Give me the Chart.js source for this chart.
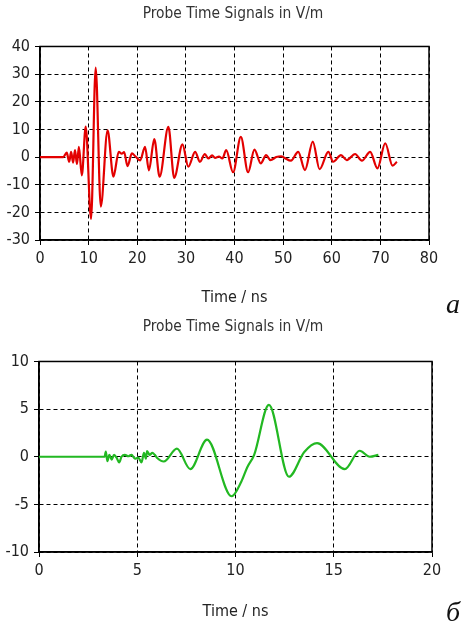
<!DOCTYPE html>
<html><head><meta charset="utf-8">
<script src="https://cdn.jsdelivr.net/npm/chart.js@4"></script>
<style>
html,body{margin:0;padding:0;background:#fff;}
#w{position:relative;width:461px;height:624px;overflow:hidden;background:#fff;}
canvas{position:absolute;left:0;}
#c1{top:0;} #c2{top:312px;}
.lab{position:absolute;font-family:'Liberation Serif','Times New Roman',serif;font-style:italic;font-size:28px;line-height:1;color:#111;}
</style></head><body>
<div id="w">
<canvas id="c1" width="461" height="312"></canvas>
<canvas id="c2" width="461" height="312"></canvas>
<div class="lab" style="left:446px;top:290px;">а</div>
<div class="lab" style="left:446px;top:598px;">б</div>
</div>
<script>
// ---- data ----
const chartTitle = 'Probe Time Signals in V/m';
const xAxisTitle = 'Time / ns';

// Top panel (a): time in ns, field in V/m
const t1 = [0,4.8,5.5,6.0,6.4,6.8,7.2,7.6,8.0,8.6,9.4,10.5,11.45,12.5,13.9,15.1,16.2,16.8,17.3,18.0,18.9,19.6,20.6,21.6,22.4,23.5,24.6,26.4,27.6,29.3,30.5,31.9,32.9,33.9,34.6,35.4,36.0,36.8,37.5,38.3,39.7,41.3,42.8,44.1,45.4,46.5,47.4,48.6,49.6,50.3,51.6,53.1,54.5,56.1,57.5,59.3,60.3,61.9,63.1,64.8,66.2,67.9,69.4,71.0,72.5,73.4];
const v1 = [0,0,1.6,-1.7,1.9,-2.0,2.5,-2.5,3.7,-6.6,11,-22.4,32.4,-17.9,9.7,-7.1,1.9,1.2,1.8,-3.3,1.3,0.3,-1.2,3.7,-4.8,6.5,-7.1,10.9,-7.5,4.6,-3.5,1.9,-1.7,1.1,-0.5,0.6,-0.3,0.2,-0.5,2.5,-5.5,7.3,-5.5,2.7,-2.3,0.7,-1.1,0,0.3,-0.3,-1.3,1.9,-4.7,5.6,-4.4,1.9,-1.7,0.7,-1.1,1.1,-1.3,1.9,-4.1,5.0,-3.1,-1.7];
const xTicks1 = {min:0, max:80, step:10};
const yTicks1 = {min:-30, max:40, step:10};

// Bottom panel (б)
const t2 = [0,3.34,3.4,3.48,3.58,3.7,3.82,3.95,4.08,4.2,4.37,4.54,4.71,4.88,5.05,5.22,5.34,5.44,5.5,5.63,5.77,5.89,6.0,6.35,7.02,7.7,8.55,9.8,10.3,10.6,10.95,11.7,12.72,13.5,14.15,15.56,16.32,16.83,17.27];
const v2 = [0,0,0.55,-0.45,0.2,-0.3,0.2,-0.1,-0.6,0.0,0.2,0.05,0.2,-0.2,-0.1,-0.6,0.4,-0.2,0.6,0.2,0.4,0.2,-0.1,-0.5,0.85,-1.3,1.8,-4.15,-2.6,-1.1,0.2,5.45,-2.1,0.5,1.43,-1.3,0.63,0,0.2];
const xTicks2 = {min:0, max:20, step:5};
const yTicks2 = {min:-10, max:10, step:5};

const F = "'DejaVu Sans Condensed','Liberation Sans',Arial,sans-serif";

const frame = {id:'frame', beforeDatasetsDraw(chart){
  const a = chart.chartArea, c = chart.ctx;
  c.save(); c.strokeStyle='#000'; c.lineWidth=1.5; c.setLineDash([]);
  c.strokeRect(a.left, a.top, a.right-a.left, a.bottom-a.top); c.restore();
}};

function make(id, ts, vs, color, xt, yt, o){
  const pts = ts.map((t,i)=>({x:t, y:vs[i]}));
  return new Chart(document.getElementById(id), {
    type:'line',
    data:{datasets:[{data:pts, borderColor:color, borderWidth:2.2, pointRadius:0, cubicInterpolationMode:'monotone', fill:false}]},
    options:{
      responsive:false, animation:false, events:[],
      layout:{padding:{left:5,right:0,top:0,bottom:0}},
      plugins:{legend:{display:false}, tooltip:{enabled:false},
        title:{display:true, text:chartTitle, color:'#333', font:{family:F,size:15.4,weight:'normal'}, padding:{top:o.tTop,bottom:o.tBot}}},
      scales:{
        x:{type:'linear', min:xt.min, max:xt.max,
          ticks:{stepSize:xt.step, color:'#222', font:{family:F,size:16}, padding:4, maxRotation:0, autoSkip:false},
          grid:{color:'#000', lineWidth:1, tickLength:5, tickColor:'#000', tickWidth:1},
          border:{display:true, color:'#000', width:1.5, dash:[4,3]},
          title:{display:true, text:xAxisTitle, color:'#222', font:{family:F,size:16}, padding:{top:0,bottom:o.xtBot}},
          afterFit(s){ s.height = 72; }},
        y:{type:'linear', min:yt.min, max:yt.max,
          ticks:{stepSize:yt.step, color:'#222', font:{family:F,size:16}, padding:5, autoSkip:false},
          grid:{color:'#000', lineWidth:1, tickLength:5, tickColor:'#000', tickWidth:1},
          border:{display:true, color:'#000', width:1.5, dash:[4,3]},
          afterFit(s){ s.width = o.yw; }},
        gap:{type:'linear', position:'right', display:true,
          ticks:{display:false}, grid:{display:false, drawTicks:false}, border:{display:false},
          afterFit(s){ s.width = o.right; }}
      }
    },
    plugins:[frame]
  });
}
make('c1', t1, v1, '#e30000', xTicks1, yTicks1, {right:32, tTop:5, tBot:23, xtBot:5, yw:35});
make('c2', t2, v2, '#22b822', xTicks2, yTicks2, {right:29, tTop:6, tBot:25, xtBot:3, yw:34});
</script>
</body></html>
